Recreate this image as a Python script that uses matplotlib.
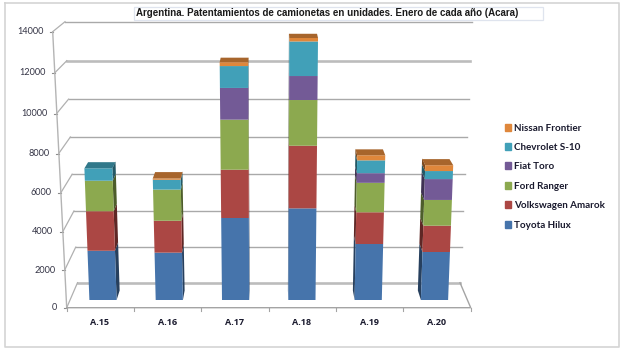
import numpy as np
import matplotlib
matplotlib.use("Agg")
import matplotlib.pyplot as plt
from matplotlib.patches import Patch, Rectangle

years = ["A.15", "A.16", "A.17", "A.18", "A.19", "A.20"]
series = ["Toyota Hilux", "Volkswagen Amarok", "Ford Ranger", "Fiat Toro", "Chevrolet S-10", "Nissan Frontier"]
hilux = [2650, 2550, 4385, 4890, 3010, 2585]
amarok = [2090, 1690, 2515, 3240, 1675, 1395]
ranger = [1590, 1630, 2555, 2315, 1535, 1350]
toro = [0, 0, 1595, 1200, 500, 1085]
s10 = [640, 510, 1090, 1710, 660, 415]
frontier = [0, 70, 190, 170, 260, 300]
colors = ["#4674AB", "#AB4744", "#8CA94F", "#735A96", "#41A0B8", "#DF873B"]
y_ticks = [0, 2000, 4000, 6000, 8000, 10000, 12000, 14000]

W, H = 623, 354
BASE = 300      # pixel row of value 0 on the bar plane
X0, STEP = 103, 66.3   # pixel x of first category and spacing
XC = 269        # vanishing column


def forward(v):
    t = np.asarray(v, dtype=float) / 1000
    return 18.38 * t + 0.0733 * t * t


def inverse(h):
    h = np.asarray(h, dtype=float)
    return 1000 * (-18.38 + np.sqrt(np.maximum(18.38 ** 2 + 4 * 0.0733 * h, 0))) / (2 * 0.0733)


def px_x(px):
    return (np.asarray(px, dtype=float) - X0) / STEP


def px_y(py):
    return inverse(BASE - np.asarray(py, dtype=float))


def darker(c, f):
    return tuple(f * x for x in matplotlib.colors.to_rgb(c))


def lean(px, v):
    return XC + (px - XC) * (1 + 4e-6 * v)


def wall_row(v, base, a, b):
    t = v / 1000
    return base - a * t - b * t * t


fig = plt.figure(figsize=(W / 100, H / 100), dpi=100, facecolor="white")
ax = fig.add_axes([0, 0, 1, 1])
ax.set_yscale("function", functions=(forward, inverse))
ax.set_xlim(px_x(0), px_x(W))
ax.set_ylim(px_y(H), px_y(0))
ax.axis("off")

# outer frame
ax.plot(px_x([4.5, 619, 619, 4.5, 4.5]), px_y([3, 3, 347, 347, 3]), color="#d4d4d4", lw=1.2)

# walls and gridlines
grid = "#a9a9a9"
for v in y_ticks:
    back = wall_row(v, 282.7, 17.64, 0.0716)
    front = wall_row(v, 307.7, 18.68, 0.074)
    xb = 77.5 - 12.5 * v / 14000
    xr = 460 + 12 * v / 14000
    xf = 66.7 - 14 * v / 14000
    lw = 1.9 if v in (0, 12000) else 1.0
    col = "#bcbcbc" if v in (0, 12000) else grid
    ax.plot(px_x([xb, xr]), px_y([back, back]), color=col, lw=lw, zorder=1)
    ax.plot(px_x([xf, xb]), px_y([front, back]), color="#b0b0b0", lw=0.9, zorder=1)
    ax.plot(px_x([xf - 3, xf]), px_y([front, front]), color="#8c8c8c", lw=0.8, zorder=1)
    ax.text(px_x(xf - 9.5), px_y(front), str(v), ha="right", va="center",
            family="Lato", fontsize=6.6, color="#333344")
ax.plot(px_x([66.7, 52.7]), px_y([307.7, 31.7]), color="#b4b4b4", lw=1.0, zorder=1)
ax.plot(px_x([66.7, 470.7, 460]), px_y([307.7, 307.7, 282.7]), color="#a4a4a4", lw=1.0, zorder=1)
for i in range(7):
    xt = 66.7 + 67.33 * i
    ax.plot(px_x([xt, xt]), px_y([307.7, 311]), color="#a4a4a4", lw=0.8, zorder=1)

# stacked bars with side and top faces
stack = np.array([hilux, amarok, ranger, toro, s10, frontier], dtype=float)
half = 13.6
for i, name in enumerate(years):
    cx = X0 + STEP * i
    side_px = cx + half if cx < XC else cx - half
    bottom = 0.0
    last = None
    for j, col in enumerate(colors):
        val = stack[j, i]
        if val == 0:
            continue
        top = bottom + val
        vs = np.array([bottom, top])
        # side face runs back towards the vanishing point
        sx = lean(side_px, vs)
        dx = (XC - sx) * 0.02
        h = forward(vs)
        dh = 9.5 - 0.02 * h
        ax.fill(px_x([sx[0], sx[1], sx[1] + dx[1], sx[0] + dx[0]]),
                inverse([h[0], h[1], h[1] + dh[1], h[0] + dh[0]]),
                color=darker(col, 0.55), lw=0, zorder=3)
        ax.fill(px_x([lean(cx - half, bottom), lean(cx - half, top), lean(cx + half, top), lean(cx + half, bottom)]),
                [bottom, top, top, bottom], color=col, lw=0, zorder=4)
        bottom = top
        last = col
    # top face
    xl, xr = lean(cx - half, bottom), lean(cx + half, bottom)
    ht = float(forward(bottom))
    dh = max(9.5 - 0.02 * ht, 4.3) * 0.75 + 1
    ax.fill(px_x([xl, xr, xr + (XC - xr) * 0.02, xl + (XC - xl) * 0.02]),
            inverse([ht, ht, ht + dh, ht + dh]), color=darker(last, 0.75), lw=0, zorder=5)
    ax.text(px_x(66.7 + 67.33 * (i + 0.5) - 0.5), px_y(322.5), name, ha="center", va="center",
            family="Open Sans", fontweight="bold", fontsize=6.5, color="#1a1a2e")

# title box
ax.add_patch(Rectangle((px_x(134), px_y(20)), px_x(543) - px_x(134), px_y(6.5) - px_y(20),
                       fc="white", ec="#dfe4ee", lw=0.9, zorder=6))
ax.text(px_x(136), px_y(13), "Argentina. Patentamientos de camionetas en unidades. Enero de cada año (Acara)",
        ha="left", va="center", family="Liberation Sans", fontweight="bold", fontsize=7.05,
        color="#1a1a1a", zorder=7)

# legend
handles = [Patch(color=c, label=s) for c, s in zip(colors[::-1], series[::-1])]
ax.legend(handles=handles, loc="upper left", bbox_to_anchor=(0.8106, 0.651), frameon=False,
          prop={"family": "Lato", "weight": "bold", "size": 7.15}, labelcolor="#1a1a2e",
          handlelength=0.62, handleheight=0.7, handletextpad=0.3, labelspacing=1.05,
          borderpad=0, borderaxespad=0)

fig.savefig("out.png", dpi=100)
